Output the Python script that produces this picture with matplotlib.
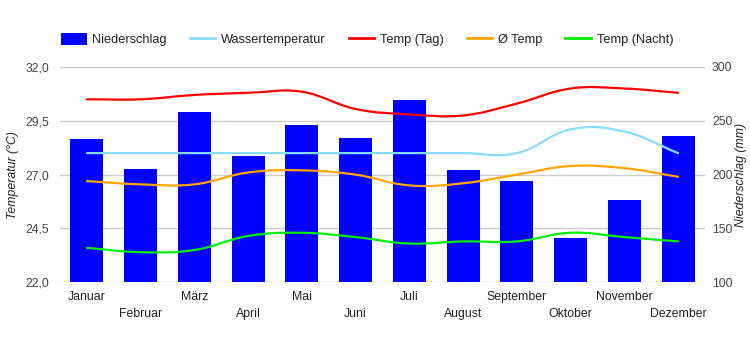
import numpy as np
import matplotlib
matplotlib.use("Agg")
import matplotlib.pyplot as plt
from matplotlib.path import Path
from matplotlib.patches import PathPatch, Patch
from matplotlib.lines import Line2D
from matplotlib.ticker import FuncFormatter

plt.rcParams['font.family'] = ['Liberation Sans', 'DejaVu Sans']

months = ["Januar", "Februar", "März", "April", "Mai", "Juni", "Juli",
          "August", "September", "Oktober", "November", "Dezember"]
niederschlag = [233, 205, 258, 217, 246, 234, 269, 204, 194, 141, 176, 236]
wassertemp = [28.0, 28.0, 28.0, 28.0, 28.0, 28.0, 28.0, 28.0, 28.0, 29.1, 29.0, 28.0]
temp_tag = [30.5, 30.5, 30.7, 30.8, 30.85, 30.05, 29.8, 29.75, 30.3, 31.0, 31.0, 30.8]
temp_avg = [26.7, 26.55, 26.55, 27.1, 27.2, 27.0, 26.5, 26.6, 27.0, 27.4, 27.3, 26.9]
temp_nacht = [23.6, 23.4, 23.5, 24.15, 24.3, 24.1, 23.8, 23.9, 23.9, 24.3, 24.1, 23.9]

left_ticks = [22.0, 24.5, 27.0, 29.5, 32.0]
right_ticks = [100, 150, 200, 250, 300]

fig = plt.figure(figsize=(7.5, 3.5), dpi=100)
ax = fig.add_axes([0.08, 0.1934, 0.86, 0.6152])
ax2 = ax.twinx()
ax.set_zorder(ax2.get_zorder() + 1)
ax.patch.set_visible(False)

x = np.arange(len(months))

# bars on right axis
ax2.bar(x, niederschlag, width=0.61, color="#0000ff", zorder=2)
ax2.set_ylim(100, 300)
ax2.set_yticks(right_ticks)
ax2.grid(axis='y', color="#cccccc", linewidth=1)
ax2.set_axisbelow(True)

def smooth(ax, xs, ys, color, s=0.2):
    xs = np.asarray(xs, float); ys = np.asarray(ys, float)
    n = len(xs)
    verts = [(xs[0], ys[0])]
    codes = [Path.MOVETO]
    def tan(i):
        if i == 0:
            return (xs[1]-xs[0])*2*s, (ys[1]-ys[0])*2*s
        if i == n-1:
            return (xs[-1]-xs[-2])*2*s, (ys[-1]-ys[-2])*2*s
        return (xs[i+1]-xs[i-1])*s, (ys[i+1]-ys[i-1])*s
    for i in range(n-1):
        t0 = tan(i); t1 = tan(i+1)
        verts += [(xs[i]+t0[0], ys[i]+t0[1]), (xs[i+1]-t1[0], ys[i+1]-t1[1]), (xs[i+1], ys[i+1])]
        codes += [Path.CURVE4]*3
    p = PathPatch(Path(verts, codes), facecolor='none', edgecolor=color, lw=1.6, zorder=3,
                  capstyle='round', joinstyle='round')
    ax.add_patch(p)

colors = {"Wassertemperatur": "#87dcff", "Temp (Tag)": "#ff0000",
          "Ø Temp": "#ffa500", "Temp (Nacht)": "#00ee00"}
smooth(ax, x, wassertemp, colors["Wassertemperatur"])
smooth(ax, x, temp_tag, colors["Temp (Tag)"])
smooth(ax, x, temp_avg, colors["Ø Temp"])
smooth(ax, x, temp_nacht, colors["Temp (Nacht)"])

ax.set_xlim(-0.5, 11.5)
ax.set_ylim(22, 32)
ax.set_yticks(left_ticks)
ax.yaxis.set_major_formatter(FuncFormatter(lambda v, p: f"{v:.1f}".replace('.', ',')))
ax.set_xticks(x)
ax.set_xticklabels([m if i % 2 == 0 else "\n" + m for i, m in enumerate(months)],
                   linespacing=1.6)

for a in (ax, ax2):
    for sp in a.spines.values():
        sp.set_visible(False)
    a.tick_params(length=0, labelsize=8.8, colors="#222222")
ax.tick_params(axis='y', pad=8, labelcolor="#444444")
ax2.tick_params(axis='y', pad=5, labelcolor="#444444")
ax.tick_params(axis='x', pad=6)

ax.set_ylabel("Temperatur (°C)", fontstyle='italic', fontsize=8.8, color="#222222",
              va='center')
ax.yaxis.set_label_coords(-0.0736, 0.5)
ax2.set_ylabel("Niederschlag (mm)", fontstyle='italic', fontsize=8.8, color="#222222",
               rotation=90, va='center')
ax2.yaxis.set_label_coords(1.0565, 0.5)

handles = [Patch(facecolor="#0000ff", edgecolor="none")] + \
          [Line2D([], [], color=c, lw=2) for c in colors.values()]
labels = ["Niederschlag"] + list(colors.keys())
fig.legend(handles, labels, loc='center left', bbox_to_anchor=(0.066, 0.887), ncol=5,
           frameon=False, fontsize=9.2, handlelength=2.0, handleheight=1.1,
           handletextpad=0.45, columnspacing=1.8, labelcolor="#222222")

fig.savefig("out.png", dpi=100)
